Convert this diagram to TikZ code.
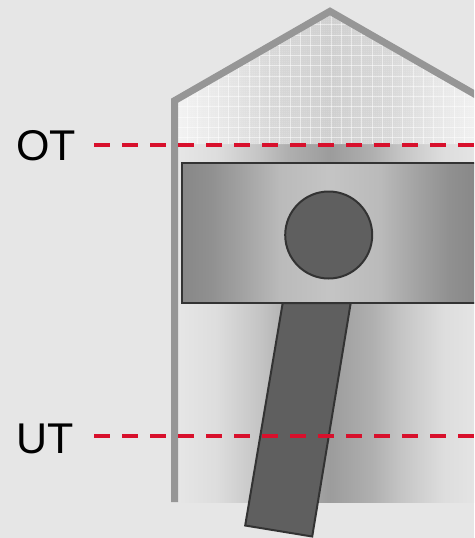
\documentclass[tikz,border=0pt]{standalone}
\usepackage{fontspec}
\setmainfont{Liberation Sans}
\usetikzlibrary{patterns}
\definecolor{bgc}{HTML}{E6E6E6}
\definecolor{wallc}{HTML}{969696}
\definecolor{redc}{HTML}{D8102C}
\definecolor{darkc}{HTML}{5F5F5F}
\definecolor{edgec}{HTML}{333333}
% x in px -> 50 +- d*0.1645 bp; shaded box spans 152 px either side of the axis
\pgfdeclarehorizontalshading{lowshade}{100bp}{
 rgb(0bp)=(.902,.902,.902);rgb(25bp)=(.902,.902,.902);
 rgb(31.4bp)=(.867,.867,.867);rgb(38.5bp)=(.769,.769,.769);rgb(42.9bp)=(.690,.690,.690);
 rgb(50bp)=(.612,.612,.612);
 rgb(57.1bp)=(.690,.690,.690);rgb(61.5bp)=(.769,.769,.769);rgb(68.6bp)=(.867,.867,.867);
 rgb(75bp)=(.902,.902,.902);rgb(100bp)=(.902,.902,.902)}
\pgfdeclarehorizontalshading{chambershade}{100bp}{
 rgb(0bp)=(.95,.95,.95);rgb(25bp)=(.95,.95,.95);
 rgb(32bp)=(.91,.91,.91);rgb(40bp)=(.85,.85,.85);
 rgb(50bp)=(.81,.81,.81);
 rgb(60bp)=(.85,.85,.85);rgb(68bp)=(.91,.91,.91);
 rgb(75bp)=(.95,.95,.95);rgb(100bp)=(.95,.95,.95)}
\pgfdeclarehorizontalshading{pistonshade}{100bp}{
 rgb(0bp)=(.53,.53,.53);rgb(25bp)=(.53,.53,.53);
 rgb(30bp)=(.565,.565,.565);rgb(35.8bp)=(.643,.643,.643);rgb(41.6bp)=(.73,.73,.73);
 rgb(50bp)=(.77,.77,.77);
 rgb(58.4bp)=(.73,.73,.73);rgb(64.2bp)=(.643,.643,.643);rgb(70bp)=(.565,.565,.565);
 rgb(75bp)=(.53,.53,.53);rgb(100bp)=(.53,.53,.53)}
\pgfdeclarepatternformonly{finecheck}{\pgfqpoint{0pt}{0pt}}{\pgfqpoint{2pt}{2pt}}{\pgfqpoint{2pt}{2pt}}{%
 \pgfpathrectangle{\pgfqpoint{0pt}{0pt}}{\pgfqpoint{1pt}{1pt}}%
 \pgfpathrectangle{\pgfqpoint{1pt}{1pt}}{\pgfqpoint{1pt}{1pt}}%
 \pgfusepath{fill}}
\tikzset{
  strokeshape/.style={draw=edgec,line width=2pt,line join=miter},
  wallline/.style={draw=wallc,line width=7pt,line join=miter},
  deadline/.style={draw=redc,line width=4pt,dash pattern=on 16pt off 12pt},
  gridline/.style={draw=white,line width=1pt,opacity=.5},
  bigtext/.style={inner sep=0pt,anchor=base west,font=\fontsize{43}{43}\selectfont,text=black}
}
\begin{document}
\begin{tikzpicture}[x=1pt,y=-1pt]
\useasboundingbox (0,0) rectangle (474,538);
\clip (0,0) rectangle (474,538);
\fill[bgc] (0,0) rectangle (474,538);
% cylinder below OT
\shade[shading=lowshade] (178,144) rectangle (482,502);
% combustion chamber
\begin{scope}
  \clip (174.5,144) -- (174.5,100.7) -- (330,11.3) -- (490,103) -- (490,144) -- cycle;
  \shade[shading=chambershade] (178,0) rectangle (482,144);
  \fill[pattern=finecheck,pattern color=white,fill opacity=.2] (170,0) rectangle (490,144);
  \foreach \k in {-15,...,15} \draw[gridline] ({331+10.25*\k},0) -- ({331+10.25*\k},144);
  \foreach \k in {-3,...,10} \draw[gridline] (170,{35+10.25*\k}) -- (490,{35+10.25*\k});
\end{scope}
% connecting rod
\filldraw[strokeshape,fill=darkc] (282.7,303) -- (350.7,303) -- (312.2,536.5) -- (245.2,525.5) -- cycle;
% piston
\shade[shading=pistonshade] (181,163) rectangle (479,303);
\draw[strokeshape] (181.5,163) rectangle (490,303);
\node[circle,strokeshape,fill=darkc,minimum size=87pt,inner sep=0pt] (pin) at (328.7,235) {};
% wall
\draw[wallline] (174.5,502) -- (174.5,100.7) -- (330,11.3) -- (490,103);
% dead centres
\node[bigtext] (ot) at (16,160) {OT};
\node[bigtext] (ut) at (16.5,453) {UT};
\coordinate (otl) at (94,145.3);
\coordinate (otr) at (480,145.3);
\coordinate (utl) at (94,436.3);
\coordinate (utr) at (480,436.3);
\draw[deadline] (otl) -- (otr);
\draw[deadline] (utl) -- (utr);
\end{tikzpicture}
\end{document}
